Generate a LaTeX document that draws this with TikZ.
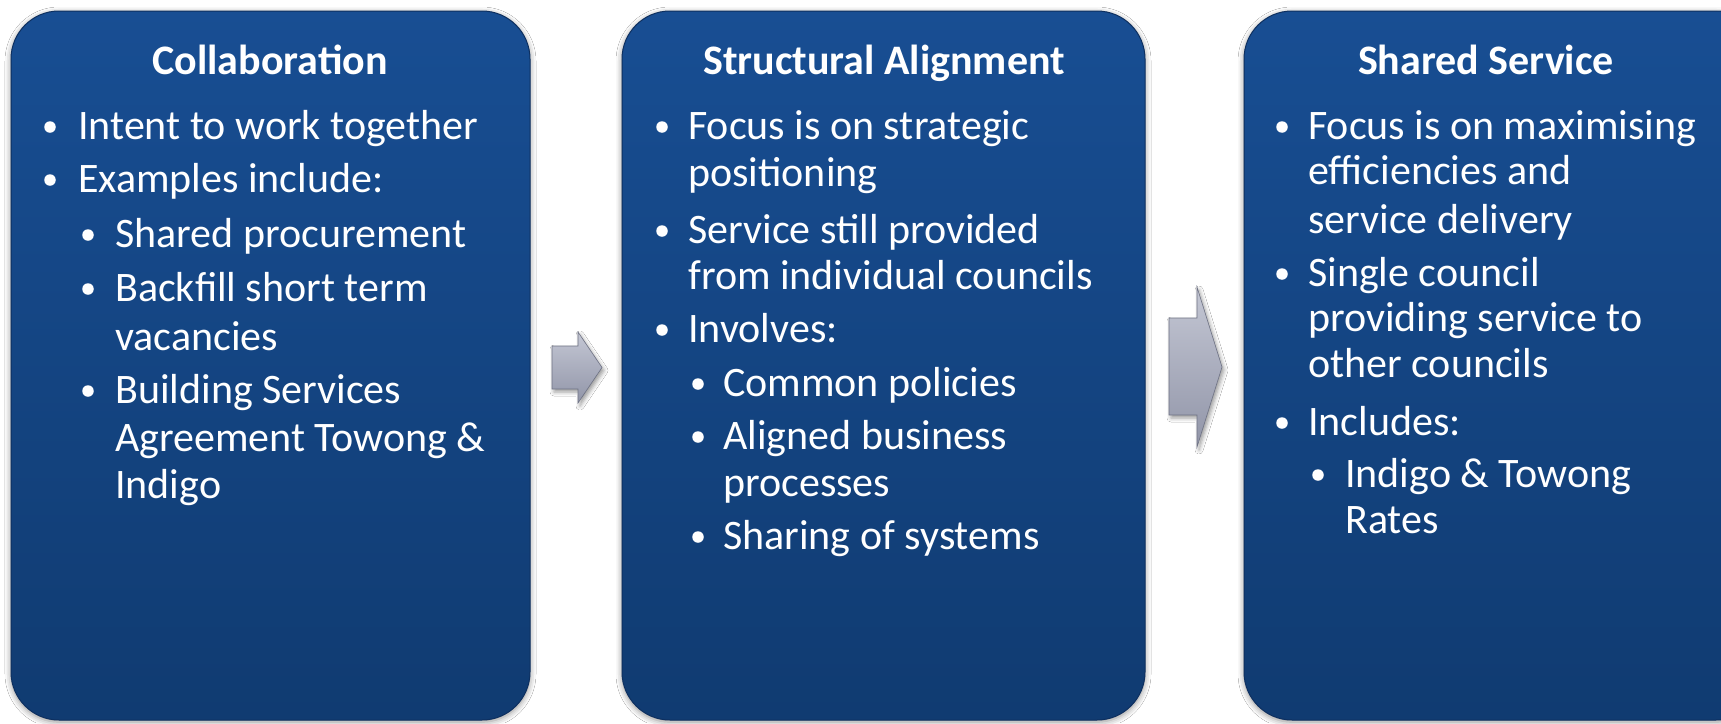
\documentclass[tikz,border=0pt]{standalone}
\usepackage{fontspec}
\setmainfont{Carlito}
\usetikzlibrary{shadows.blur}
\definecolor{boxtop}{RGB}{24,78,147}
\definecolor{boxbot}{RGB}{16,59,113}
\definecolor{boxedge}{RGB}{14,48,96}
\definecolor{arrtop}{RGB}{196,199,212}
\definecolor{arrbot}{RGB}{145,149,168}
\definecolor{arredge}{RGB}{110,114,132}
\begin{document}
\begin{tikzpicture}[x=1pt,y=-1pt,
  stage/.style={rounded corners=48pt, top color=boxtop, bottom color=boxbot,
    draw=boxedge, line width=1pt, minimum width=#1, minimum height=709pt,
    inner sep=0pt,
    blur shadow={shadow xshift=0pt, shadow yshift=-2pt, shadow blur radius=6pt, shadow opacity=45}},
  ttl/.style={font=\bfseries\fontsize{42}{50}\selectfont, text=white, anchor=base, inner sep=0pt},
  ln/.style={font=\fontsize{42}{50}\selectfont, text=white, anchor=base west, inner sep=0pt},
  bul/.style={circle, fill=white, inner sep=0pt, minimum size=11.5pt},
  flow/.style={top color=arrtop, bottom color=arrbot, draw=arredge, line width=0.6pt,
    blur shadow={shadow xshift=2pt, shadow yshift=-3pt, shadow blur radius=4pt, shadow opacity=40}}
]
\useasboundingbox (0,0) rectangle (1721,723);
\clip (0,0) rectangle (1721,723);
\fill[white] (0,0) rectangle (1721,723);

% boxes
\node[stage=519pt] (box1) at (270.5,365.5) {};
\node[stage=523pt] (box2) at (883.5,365.5) {};
\node[stage=520pt] (box3) at (1504,365.5) {};

% arrows
\path[flow] (552,346) -- (578,346) -- (578,332) -- (602,367.5) -- (578,403) -- (578,389) -- (552,389) -- cycle;
\path[flow] (1169,318) -- (1197,318) -- (1197,287) -- (1222,367) -- (1197,447) -- (1197,415) -- (1169,415) -- cycle;

% box 1
\node[ttl] (t1) at (270,74) {Collaboration};
\node[bul] (d1a) at (50,127) {};
\node[ln] (l1a) at (78,139) {Intent to work together};
\node[bul] (d1b) at (50,180) {};
\node[ln] (l1b) at (78,192) {Examples include:};
\node[bul] (d1c) at (88,235) {};
\node[ln] (l1c) at (115,247) {Shared procurement};
\node[bul] (d1d) at (88,289) {};
\node[ln] (l1d) at (115,301) {Backfill short term};
\node[ln] (l1e) at (115,350) {vacancies};
\node[bul] (d1f) at (88,391) {};
\node[ln] (l1f) at (115,403) {Building Services};
\node[ln] (l1g) at (115,451) {Agreement Towong \&};
\node[ln] (l1h) at (115,498) {Indigo};

% box 2
\node[ttl] (t2) at (884,74) {Structural Alignment};
\node[bul] (d2a) at (662,127) {};
\node[ln] (l2a) at (688,139) {Focus is on strategic};
\node[ln] (l2b) at (688,186) {positioning};
\node[bul] (d2c) at (662,231) {};
\node[ln] (l2c) at (688,243) {Service still provided};
\node[ln] (l2d) at (688,289) {from individual councils};
\node[bul] (d2e) at (662,330) {};
\node[ln] (l2e) at (688,342) {Involves:};
\node[bul] (d2f) at (698,384) {};
\node[ln] (l2f) at (723,396) {Common policies};
\node[bul] (d2g) at (698,437) {};
\node[ln] (l2g) at (723,449) {Aligned business};
\node[ln] (l2h) at (723,496) {processes};
\node[bul] (d2i) at (698,537) {};
\node[ln] (l2i) at (723,549) {Sharing of systems};

% box 3
\node[ttl] (t3) at (1486,74) {Shared Service};
\node[bul] (d3a) at (1282,127) {};
\node[ln] (l3a) at (1308,139) {Focus is on maximising};
\node[ln] (l3b) at (1308,184) {efficiencies and};
\node[ln] (l3c) at (1308,233) {service delivery};
\node[bul] (d3d) at (1282,274) {};
\node[ln] (l3d) at (1308,286) {Single council};
\node[ln] (l3e) at (1308,331) {providing service to};
\node[ln] (l3f) at (1308,377) {other councils};
\node[bul] (d3g) at (1282,423) {};
\node[ln] (l3g) at (1308,435) {Includes:};
\node[bul] (d3h) at (1318,475) {};
\node[ln] (l3h) at (1345,487) {Indigo \& Towong};
\node[ln] (l3i) at (1345,533) {Rates};
\end{tikzpicture}
\end{document}
